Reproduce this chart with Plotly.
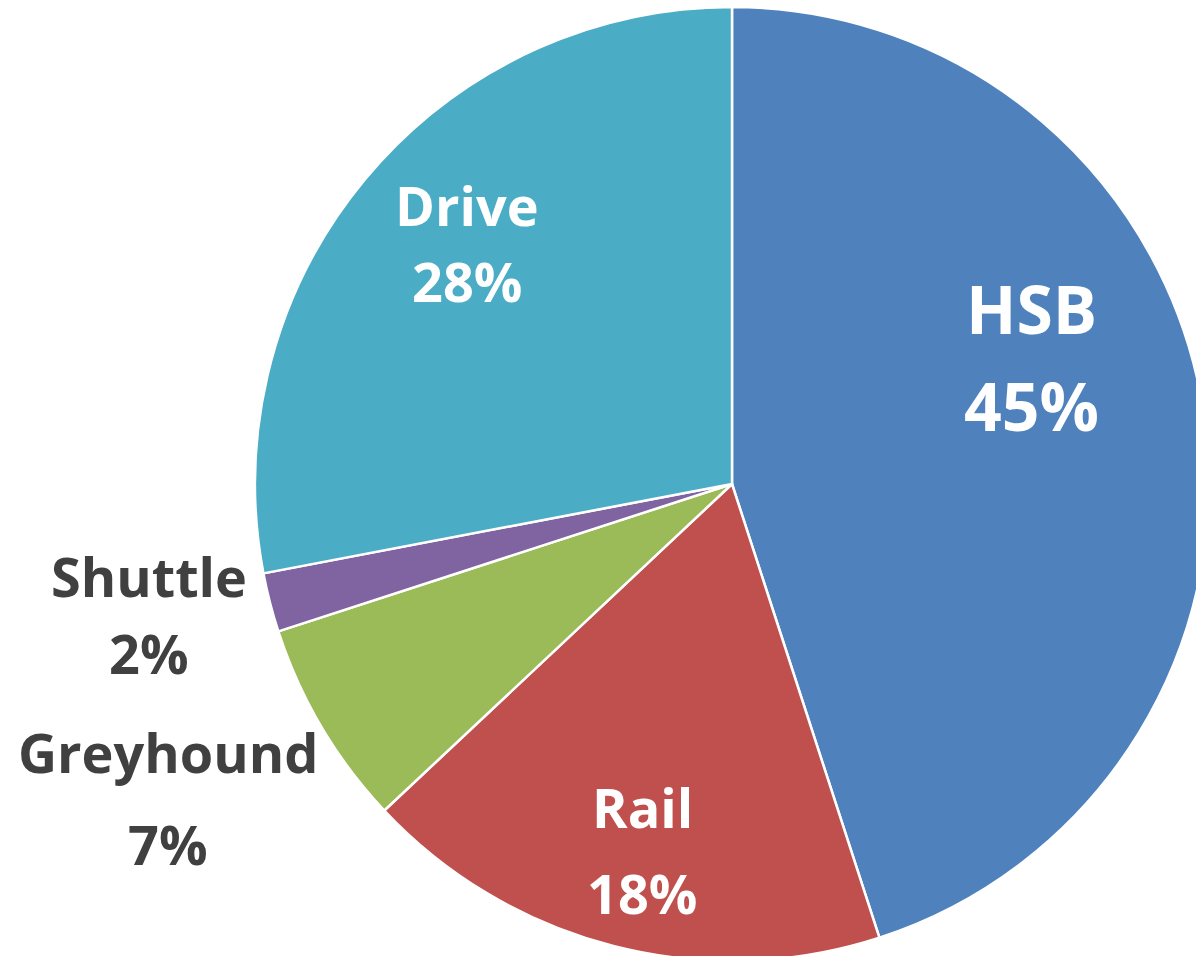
import plotly.graph_objects as go

# Mode share of trips
modes = ["HSB", "Rail", "Greyhound", "Shuttle", "Drive"]
shares = [45, 18, 7, 2, 28]
colors = ["#4F81BD", "#C0504D", "#9BBB59", "#8064A2", "#4BACC6"]

# Canvas and pie geometry (pixels)
W, H = 1240, 990
CX, CY, R = 732, 484, 477

# Label placement: (x, name-line y, percent-line y, text colour, font size)
label_pos = {
    "HSB": (1031, 308, 405, "white", 66),
    "Rail": (642, 807, 893, "white", 54),
    "Greyhound": (168, 752, 844, "#404040", 54),
    "Shuttle": (149, 576, 653, "#404040", 54),
    "Drive": (467, 205, 281, "white", 54),
}

FONT = "Open Sans"


def px(x):
    return x / W


def py(y):
    return 1 - y / H


fig = go.Figure(
    go.Pie(
        labels=modes,
        values=shares,
        sort=False,
        direction="clockwise",
        rotation=0,
        marker=dict(colors=colors, line=dict(color="white", width=2.5)),
        textinfo="none",
        hoverinfo="skip",
        showlegend=False,
        domain=dict(x=[px(CX - R), px(CX + R)], y=[py(CY + R), py(CY - R)]),
    )
)

annotations = []
for name, val in zip(modes, shares):
    x, y1, y2, col, size = label_pos[name]
    for txt, y in ((name, y1), (f"{val}%", y2)):
        annotations.append(
            dict(
                x=px(x), y=py(y), xref="paper", yref="paper",
                text=txt, showarrow=False,
                xanchor="center", yanchor="middle",
                font=dict(family=FONT, size=size, color=col, weight="bold"),
            )
        )

fig.update_layout(
    width=W,
    height=H,
    margin=dict(l=0, r=0, t=0, b=0),
    paper_bgcolor="white",
    plot_bgcolor="white",
    annotations=annotations,
)

fig.write_html(
    "out.html",
    config={"displayModeBar": False},
    post_script="document.body.style.margin='0';document.body.style.overflow='hidden';document.documentElement.style.overflow='hidden';",
)
